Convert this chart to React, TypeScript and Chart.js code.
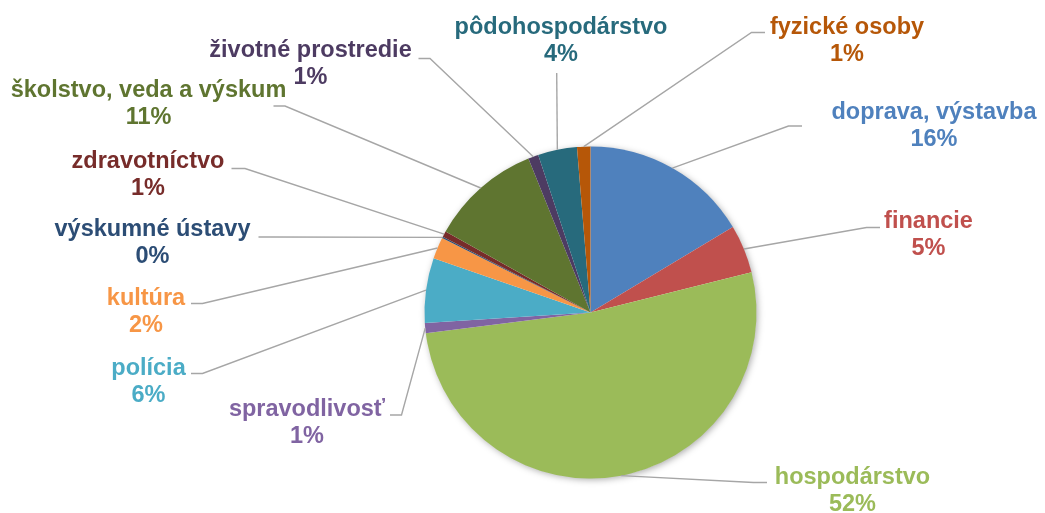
import React, { useEffect, useRef } from "react";
import { Chart, registerables } from "chart.js";

Chart.register(...registerables);

// ---- data ----
const categories = [
  "doprava, výstavba",
  "financie",
  "hospodárstvo",
  "spravodlivosť",
  "polícia",
  "kultúra",
  "výskumné ústavy",
  "zdravotníctvo",
  "školstvo, veda a výskum",
  "životné prostredie",
  "pôdohospodárstvo",
  "fyzické osoby",
];
const shares = [16.4, 4.7, 51.9, 1.0, 6.3, 2.1, 0.15, 0.55, 10.8, 1.0, 3.8, 1.3];
const colors = [
  "#4F81BD",
  "#C0504D",
  "#9BBB59",
  "#8064A2",
  "#4BACC6",
  "#F79646",
  "#2C4D75",
  "#772C2A",
  "#5F7530",
  "#4D3B62",
  "#276A7C",
  "#B65708",
];

// ---- label layout (text centre x, first baseline y, leader elbow: joinX, endX, y) ----
const labelLayout = [
  { x: 934, y: 119, elbow: [788.5, 802, 126] },
  { x: 928.5, y: 228, elbow: [866.5, 880, 227.5] },
  { x: 852.5, y: 483.5, elbow: [753.5, 767, 482.5] },
  { x: 307, y: 416, elbow: [401.5, 390, 415] },
  { x: 148.5, y: 374.5, elbow: [202.5, 191, 373.5] },
  { x: 146, y: 304.5, elbow: [202.5, 191, 303.5] },
  { x: 152.5, y: 236, elbow: [271, 258.5, 237] },
  { x: 148, y: 168, elbow: [245, 231.5, 168.5] },
  { x: 148.5, y: 96.5, elbow: [285, 273.5, 106] },
  { x: 310.5, y: 57, elbow: [430, 418.5, 58.5] },
  { x: 561, y: 34, elbow: [556.7, 556.7, 73] },
  { x: 847, y: 34, elbow: [751.5, 765, 32.5] },
];

const FONT = 'bold 23.5px "Liberation Sans", Arial, sans-serif';
const LINE_H = 27;

const shadowPlugin = {
  id: "pieShadow",
  beforeDatasetsDraw(chart: any) {
    const meta = chart.getDatasetMeta(0);
    if (!meta.data.length) return;
    const { x, y, outerRadius } = meta.data[0].getProps(["x", "y", "outerRadius"], true);
    const ctx = chart.ctx;
    ctx.save();
    ctx.shadowColor = "rgba(0,0,0,0.35)";
    ctx.shadowBlur = 7;
    ctx.shadowOffsetX = 1.5;
    ctx.shadowOffsetY = 1.5;
    ctx.fillStyle = "#ffffff";
    ctx.beginPath();
    ctx.arc(x, y, outerRadius - 0.5, 0, Math.PI * 2);
    ctx.fill();
    ctx.restore();
  },
};

const labelPlugin = {
  id: "outsideLabels",
  afterDatasetsDraw(chart: any) {
    const meta = chart.getDatasetMeta(0);
    const ctx = chart.ctx;
    const total = shares.reduce((a, b) => a + b, 0);
    ctx.save();
    // leader lines
    ctx.strokeStyle = "#A6A6A6";
    ctx.lineWidth = 1.4;
    meta.data.forEach((arc: any, i: number) => {
      const { x, y, startAngle, endAngle, outerRadius } = arc.getProps(
        ["x", "y", "startAngle", "endAngle", "outerRadius"],
        true
      );
      const mid = (startAngle + endAngle) / 2;
      const px = x + Math.cos(mid) * outerRadius;
      const py = y + Math.sin(mid) * outerRadius;
      const [jx, ex, ey] = labelLayout[i].elbow;
      ctx.beginPath();
      ctx.moveTo(px, py);
      ctx.lineTo(jx, ey);
      ctx.lineTo(ex, ey);
      ctx.stroke();
    });
    // texts
    ctx.font = FONT;
    ctx.textAlign = "center";
    ctx.textBaseline = "alphabetic";
    categories.forEach((name, i) => {
      const pct = Math.round((shares[i] / total) * 100) + "%";
      const { x, y } = labelLayout[i];
      ctx.fillStyle = colors[i];
      ctx.fillText(name, x, y);
      ctx.fillText(pct, x, y + LINE_H);
    });
    ctx.restore();
  },
};

export default function App() {
  const ref = useRef<HTMLCanvasElement | null>(null);
  useEffect(() => {
    if (!ref.current) return;
    const chart = new Chart(ref.current, {
      type: "pie",
      data: {
        labels: categories,
        datasets: [
          {
            data: shares,
            backgroundColor: colors,
            borderWidth: 0,
          },
        ],
      },
      options: {
        responsive: true,
        maintainAspectRatio: false,
        animation: false,
        layout: { padding: { left: 424.5, right: 288.5, top: 146.5, bottom: 34.5 } },
        plugins: {
          legend: { display: false },
          tooltip: { enabled: false },
        },
      },
      plugins: [shadowPlugin, labelPlugin],
    });
    return () => chart.destroy();
  }, []);
  return (
    <div
      style={{
        position: "absolute",
        left: 0,
        top: 0,
        width: 1045,
        height: 513,
        background: "#ffffff",
      }}
    >
      <canvas ref={ref} />
    </div>
  );
}
